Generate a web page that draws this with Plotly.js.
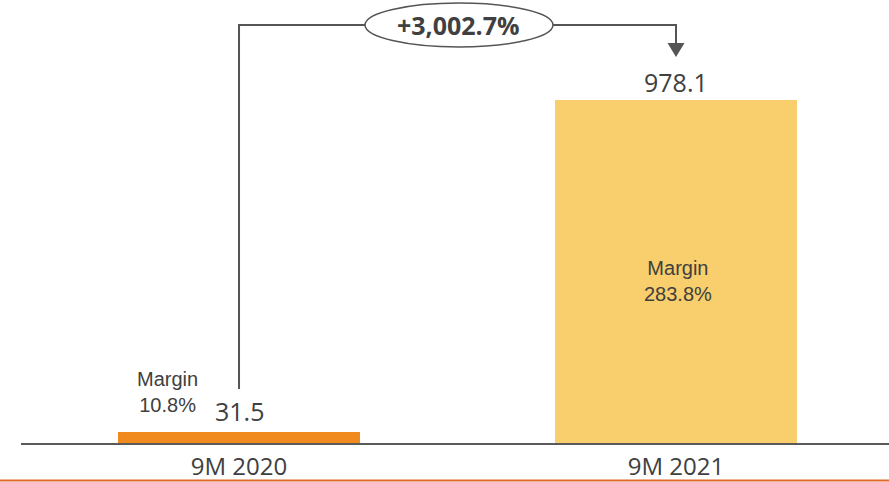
<!DOCTYPE html>
<html>
<head>
<meta charset="utf-8">
<script src="https://cdn.plot.ly/plotly-3.0.1.min.js"></script>
<style>
  html, body { margin: 0; padding: 0; background: #ffffff; }
  #chart { width: 889px; height: 482px; }
</style>
</head>
<body>
<div id="chart"></div>
<script>
// Period results and margins
const categories = ['9M 2020', '9M 2021'];
const values = [31.5, 978.1];
const marginValues = ['10.8%', '283.8%'];
const growthLabel = '+3,002.7%';
const barColors = ['#F08A1E', '#F9CE6C'];

// Frame geometry (pixels)
const W = 889, H = 482;
const M = { l: 21, r: 0, t: 0, b: 39 };
const plotW = W - M.l - M.r;
const plotH = H - M.t - M.b;
const xRange = [-0.4989, 1.4874];
const yRange = [0, 1263];

// pixel helpers for decorations
const pxPerX = plotW / (xRange[1] - xRange[0]);
const px2x = px => xRange[0] + (px - M.l) / pxPerX;
const py2paper = py => 1 - (py - M.t) / plotH;
const px2paper = px => (px - M.l) / plotW;

const textColor = '#404040';
const lineColor = '#555555';
const numFont = 'Open Sans, DejaVu Sans, sans-serif';
const lblFont = 'Liberation Sans, Arial, sans-serif';

const xIdx = categories.map((_, i) => i);

const trace = {
  type: 'bar',
  x: xIdx,
  y: values,
  width: 0.554,
  marker: { color: barColors, line: { width: 0 } },
  hoverinfo: 'skip'
};

// connector from the first bar to the second
const topY = py2paper(25);
const connector = {
  type: 'path', xref: 'x', yref: 'paper',
  path: `M 0 ${py2paper(389)} L 0 ${topY} L 1 ${topY} L 1 ${py2paper(45)}`,
  line: { color: lineColor, width: 2 }
};
const half = 8.5 / pxPerX;
const arrowHead = {
  type: 'path', xref: 'x', yref: 'paper',
  path: `M ${1 - half} ${py2paper(43)} L ${1 + half} ${py2paper(43)} L 1 ${py2paper(57)} Z`,
  fillcolor: lineColor, line: { color: lineColor, width: 0 }
};
const bubble = {
  type: 'circle', xref: 'x', yref: 'paper',
  x0: px2x(365), x1: px2x(553), y0: py2paper(47), y1: py2paper(3),
  fillcolor: '#ffffff', line: { color: lineColor, width: 1.5 }
};
const footerRule = {
  type: 'line', xref: 'paper', yref: 'paper',
  x0: px2paper(0), x1: px2paper(W), y0: py2paper(480.5), y1: py2paper(480.5),
  line: { color: '#E06A2B', width: 2 }
};

const annotations = [];
// value labels above the bars
values.forEach((v, i) => {
  annotations.push({
    x: i, y: v, xref: 'x', yref: 'y',
    text: v.toFixed(1), showarrow: false,
    yanchor: 'bottom', yshift: i === 0 ? 2 : -1,
    font: { family: numFont, size: 25, color: textColor }
  });
});
// margin labels
annotations.push({
  x: px2x(167), y: values[0], xref: 'x', yref: 'y',
  text: 'Margin<br>' + marginValues[0], showarrow: false,
  yanchor: 'middle', yshift: 40,
  font: { family: lblFont, size: 20, color: textColor }
});
annotations.push({
  x: 1, y: values[1] / 2, xref: 'x', yref: 'y', xshift: 2,
  text: 'Margin<br>' + marginValues[1], showarrow: false,
  yanchor: 'middle', yshift: -10,
  font: { family: lblFont, size: 20, color: textColor }
});
// growth label in the bubble
annotations.push({
  x: px2x(458), y: py2paper(25), xref: 'x', yref: 'paper',
  text: '<b>' + growthLabel + '</b>', showarrow: false,
  yanchor: 'middle',
  font: { family: numFont, size: 25, color: textColor }
});

const layout = {
  width: W, height: H,
  margin: M,
  paper_bgcolor: '#ffffff', plot_bgcolor: '#ffffff',
  showlegend: false,
  bargap: 0,
  xaxis: {
    type: 'linear', range: xRange, fixedrange: true,
    tickvals: xIdx, ticktext: categories,
    showgrid: false, zeroline: false,
    showline: true, linecolor: '#5a5a5a', linewidth: 2,
    ticks: '', ticklabelstandoff: 1,
    tickfont: { family: numFont, size: 24, color: textColor }
  },
  yaxis: {
    range: yRange, fixedrange: true, visible: false,
    showgrid: false, zeroline: false
  },
  shapes: [connector, arrowHead, bubble, footerRule],
  annotations: annotations
};

Plotly.newPlot('chart', [trace], layout, { displayModeBar: false, staticPlot: true });
</script>
</body>
</html>
